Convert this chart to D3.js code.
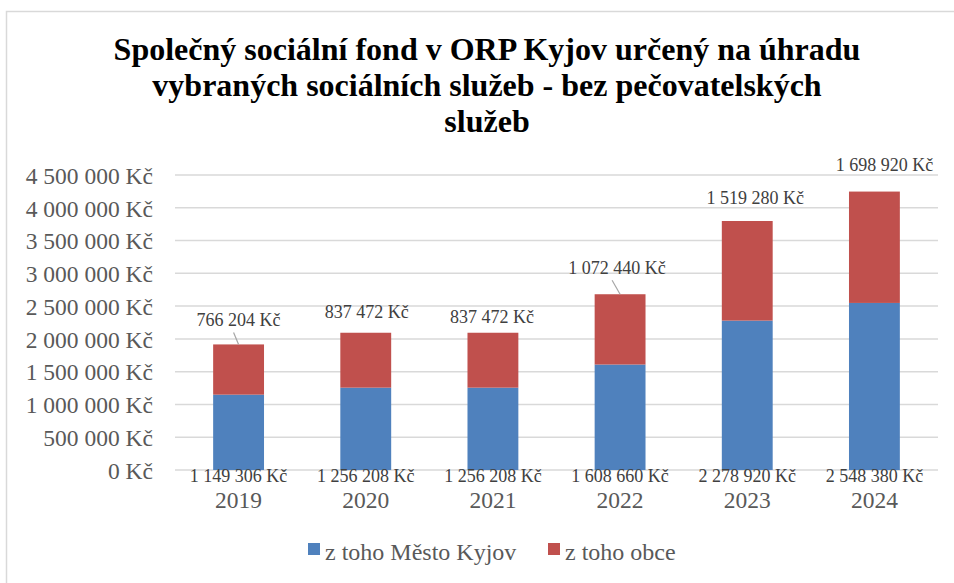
<!DOCTYPE html>
<html>
<head>
<meta charset="utf-8">
<script src="https://cdn.jsdelivr.net/npm/d3@7"></script>
<style>
  html, body { margin: 0; padding: 0; background: #fff; }
  svg { display: block; font-family: "Liberation Serif", "Times New Roman", serif; }
</style>
</head>
<body>
<svg id="chart" width="954" height="583"></svg>
<script>
// ---- data ----
const years = ["2019", "2020", "2021", "2022", "2023", "2024"];
const mestoKyjov = [1149306, 1256208, 1256208, 1608660, 2278920, 2548380];
const obce = [766204, 837472, 837472, 1072440, 1519280, 1698920];
const seriesNames = ["z toho Město Kyjov", "z toho obce"];
const yTicks = [0, 500000, 1000000, 1500000, 2000000, 2500000, 3000000, 3500000, 4000000, 4500000];
const titleLines = [
  "Společný sociální fond v ORP Kyjov určený na úhradu",
  "vybraných sociálních služeb - bez pečovatelských",
  "služeb"
];

// ---- layout (label placement as dragged in the original) ----
const obceLabelOffset = [[0, -25], [1, -21], [-1, -16], [-3, -27], [8, -23], [10, -27]];
const leaderLines = [true, false, false, true, false, false];
const colors = ["#4F81BD", "#C0504D"];

const svg = d3.select("#chart");
const fmt = v => {
  const s = String(Math.round(v));
  return s.replace(/\B(?=(\d{3})+(?!\d))/g, " ") + " Kč";
};

// chart border
svg.append("rect").attr("x", 6.5).attr("y", 11.5).attr("width", 1000).attr("height", 1000)
  .attr("fill", "none").attr("stroke", "#d9d9d9").attr("stroke-width", 1.5);

// title
const title = svg.append("text").attr("text-anchor", "middle")
  .attr("font-weight", "bold").attr("font-size", 32).attr("fill", "#000");
titleLines.forEach((t, i) => {
  title.append("tspan").attr("x", 487).attr("y", 60 + i * 36).text(t);
});

const x = d3.scaleBand().domain(years).range([175, 938]).paddingInner(0.6).paddingOuter(0.3);
const y = d3.scaleLinear().domain([0, 4500000]).range([470, 175]);

// gridlines
svg.append("g").selectAll("line").data(yTicks).join("line")
  .attr("x1", 175).attr("x2", 938)
  .attr("y1", d => y(d)).attr("y2", d => y(d))
  .attr("stroke", "#d9d9d9").attr("stroke-width", 1.5);

// y axis labels
const yAxis = d3.axisLeft(y).tickValues(yTicks).tickFormat(fmt).tickSize(0).tickPadding(0);
const gy = svg.append("g").attr("transform", "translate(153,0)").call(yAxis);
gy.select(".domain").remove();
gy.selectAll("text").attr("font-family", "Liberation Serif, serif").attr("font-size", 23.5)
  .attr("fill", "#595959").attr("dy", "0.35em");

// stacked bars
const data = years.map((yr, i) => ({ year: yr, a: mestoKyjov[i], b: obce[i], i }));
const stack = d3.stack().keys(["a", "b"])(data);
svg.append("g").selectAll("g").data(stack).join("g")
  .attr("fill", (d, i) => colors[i])
  .selectAll("rect").data(d => d).join("rect")
  .attr("x", d => x(d.data.year))
  .attr("width", x.bandwidth())
  .attr("y", d => y(d[1]))
  .attr("height", d => y(d[0]) - y(d[1]));

// x axis labels (years)
const xAxis = d3.axisBottom(x).tickSize(0).tickPadding(0);
const gx = svg.append("g").attr("transform", "translate(0,508)").call(xAxis);
gx.select(".domain").remove();
gx.selectAll("text").attr("font-family", "Liberation Serif, serif").attr("font-size", 23.5)
  .attr("fill", "#595959").attr("dy", 0);

// data labels: Město Kyjov (at base)
svg.append("g").selectAll("text").data(data).join("text")
  .attr("x", d => x(d.year) + x.bandwidth() / 2)
  .attr("y", 476)
  .attr("dy", "0.35em")
  .attr("text-anchor", "middle").attr("font-size", 18).attr("fill", "#404040")
  .text(d => fmt(d.a));

// leader lines for obce labels
svg.append("g").selectAll("line").data(data.filter(d => leaderLines[d.i])).join("line")
  .attr("x1", d => x(d.year) + x.bandwidth() / 2 + obceLabelOffset[d.i][0] - 5)
  .attr("y1", d => y(d.a + d.b) + obceLabelOffset[d.i][1] + 13)
  .attr("x2", d => x(d.year) + x.bandwidth() / 2)
  .attr("y2", d => y(d.a + d.b))
  .attr("stroke", "#a6a6a6").attr("stroke-width", 1.2);

// data labels: obce (above)
svg.append("g").selectAll("text").data(data).join("text")
  .attr("x", d => x(d.year) + x.bandwidth() / 2 + obceLabelOffset[d.i][0])
  .attr("y", d => y(d.a + d.b) + obceLabelOffset[d.i][1])
  .attr("dy", "0.35em")
  .attr("text-anchor", "middle").attr("font-size", 18).attr("fill", "#404040")
  .text(d => fmt(d.b));

// legend
const legendItems = [
  { name: seriesNames[0], color: colors[0], sx: 308, tx: 325 },
  { name: seriesNames[1], color: colors[1], sx: 548, tx: 565 }
];
const lg = svg.append("g");
lg.selectAll("rect").data(legendItems).join("rect")
  .attr("x", d => d.sx).attr("y", 543).attr("width", 12).attr("height", 12)
  .attr("fill", d => d.color);
lg.selectAll("text").data(legendItems).join("text")
  .attr("x", d => d.tx).attr("y", 552).attr("dy", "0.35em")
  .attr("font-size", 24).attr("fill", "#595959")
  .text(d => d.name);
</script>
</body>
</html>
